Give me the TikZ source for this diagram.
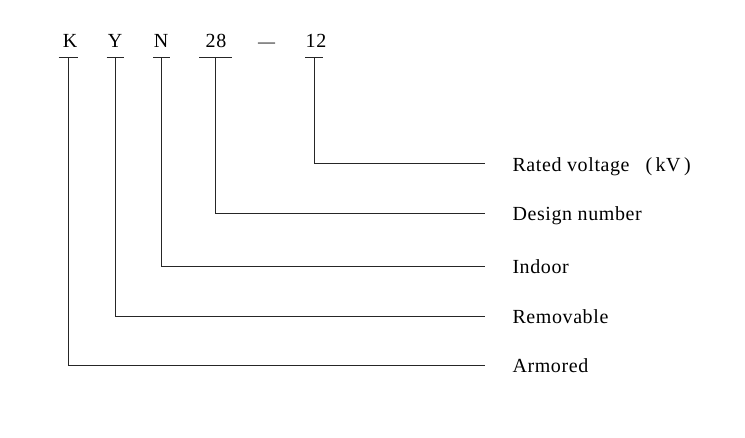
\documentclass[tikz,border=0pt]{standalone}
\usepackage{fontspec}
\setmainfont[LetterSpace=3]{Liberation Serif}
\usetikzlibrary{positioning, calc}

\begin{document}
\begin{tikzpicture}[x=1pt, y=-1pt, line width=1pt,
  code/.style={font=\fontsize{20}{22}\selectfont, inner sep=0pt, anchor=base},
  meaning/.style={font=\fontsize{20}{22}\selectfont, inner sep=0pt, anchor=base west},
  lead/.style={draw=black!85, shorten >=27pt}]
\useasboundingbox (0,0) rectangle (745,437);

% Model code
\node[code] (k) at (70,47) {K};
\node[code] (y) at (115,47) {Y};
\node[code] (n) at (161,47) {N};
\node[code] (d) at (216,47) {28};
\node[code, font=\fontsize{17}{20}\selectfont] (dash) at (266.5,47) {—};
\node[code] (v) at (316,47) {12};

% Tick bars under each part
\coordinate (kt) at (68,57);
\coordinate (yt) at (115,57);
\coordinate (nt) at (161.5,57);
\coordinate (dt) at (215.5,57);
\coordinate (vt) at (314,57);
\foreach \c/\w in {kt/9.5, yt/8.5, nt/8.5, dt/16.5, vt/9}
  \draw[draw=black!85] ([xshift=-\w pt]\c) -- ([xshift=\w pt]\c);

% Meanings
\node[meaning] (volt) at (512,171) {Rated voltage\hspace{0.8em}(\,kV\,)};
\node[meaning] (design) at (512,220.5) {Design number};
\node[meaning] (indoor) at (512,273.5) {Indoor};
\node[meaning] (remov) at (512,323.5) {Removable};
\node[meaning] (armor) at (512,372.5) {Armored};

% Leaders
\draw[lead] (vt) |- ([yshift=7.5pt]volt.base west);
\draw[lead] (dt) |- ([yshift=7.5pt]design.base west);
\draw[lead] (nt) |- ([yshift=7.5pt]indoor.base west);
\draw[lead] (yt) |- ([yshift=7.5pt]remov.base west);
\draw[lead] (kt) |- ([yshift=7.5pt]armor.base west);
\end{tikzpicture}
\end{document}
